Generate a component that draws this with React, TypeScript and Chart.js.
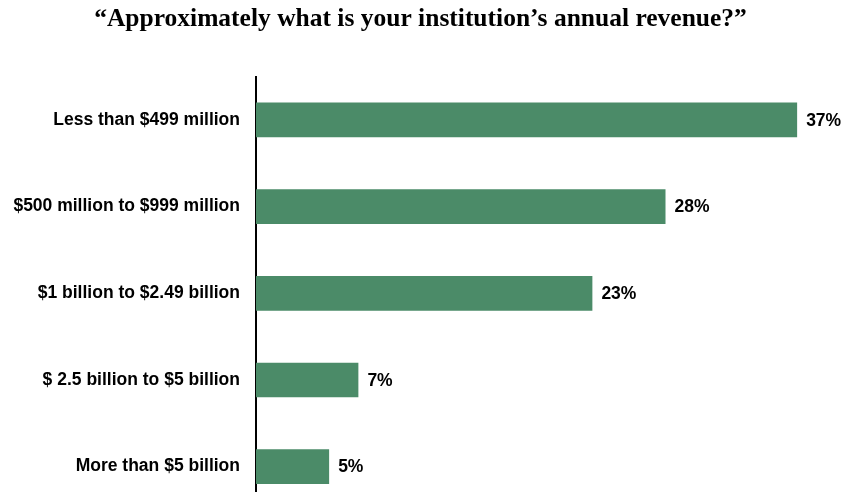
import React, { useEffect, useRef } from "react";
import { Chart, registerables } from "chart.js";

Chart.register(...registerables);

const TITLE = "\u201CApproximately what is your institution\u2019s annual revenue?\u201D";
const categories = [
  "Less than $499 million",
  "$500 million to $999 million",
  "$1 billion to $2.49 billion",
  "$ 2.5 billion to $5 billion",
  "More than $5 billion",
];
const values = [37, 28, 23, 7, 5];
const valueLabels = ["37%", "28%", "23%", "7%", "5%"];

const BAR_COLOR = "#4b8b68";
const LABEL_FONT = { family: "'Liberation Sans', Arial, sans-serif", size: 17.5, weight: "bold" as const };

const valueLabelPlugin = {
  id: "valueLabels",
  afterDatasetsDraw(chart: any) {
    const ctx = chart.ctx;
    const meta = chart.getDatasetMeta(0);
    ctx.save();
    ctx.font = `bold ${LABEL_FONT.size}px ${LABEL_FONT.family}`;
    ctx.fillStyle = "#000";
    ctx.textAlign = "left";
    ctx.textBaseline = "middle";
    meta.data.forEach((bar: any, i: number) => {
      ctx.fillText(valueLabels[i], bar.x + 9, bar.y + 1);
    });
    ctx.restore();
  },
};

export default function App() {
  const ref = useRef<HTMLCanvasElement | null>(null);
  useEffect(() => {
    if (!ref.current) return;
    const chart = new Chart(ref.current, {
      type: "bar",
      data: {
        labels: categories,
        datasets: [
          {
            data: values,
            backgroundColor: BAR_COLOR,
            barPercentage: 0.4,
            categoryPercentage: 1,
          },
        ],
      },
      options: {
        indexAxis: "y",
        animation: false,
        responsive: false,
        maintainAspectRatio: false,
        layout: { padding: { left: 0, right: 6, top: 0, bottom: 0 } },
        plugins: {
          legend: { display: false },
          tooltip: { enabled: false },
          title: {
            display: true,
            text: TITLE,
            color: "#000",
            font: { family: "'Liberation Serif', 'Times New Roman', serif", size: 25.5, weight: "bold", lineHeight: 1.2 },
            padding: { top: 4, bottom: 42 },
          },
        },
        scales: {
          x: {
            display: false,
            min: 0,
            max: 40,
          },
          y: {
            grid: { display: false, drawTicks: false },
            border: { display: true, color: "#000", width: 2 },
            ticks: { color: "#000", font: LABEL_FONT, padding: 16 },
            afterFit: (scale: any) => {
              scale.width = 256;
              scale.paddingTop = 0;
              scale.paddingBottom = 0;
            },
          },
        },
      },
      plugins: [valueLabelPlugin],
    });
    return () => chart.destroy();
  }, []);
  return (
    <div style={{ position: "fixed", left: 0, top: 0, width: 847, height: 492, overflow: "hidden", background: "#fff" }}>
      <canvas ref={ref} width={847} height={510} style={{ display: "block", width: 847, height: 510 }} />
    </div>
  );
}
